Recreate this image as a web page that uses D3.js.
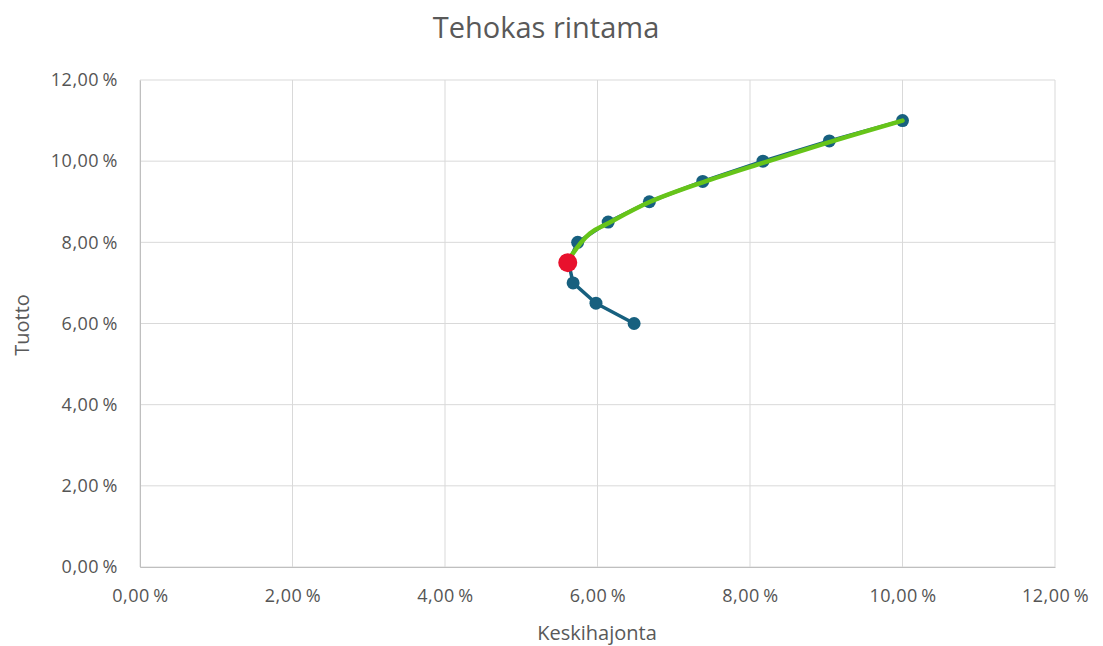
<!DOCTYPE html>
<html><head><meta charset="utf-8">
<script src="https://cdn.jsdelivr.net/npm/d3@7"></script>
<style>body{margin:0;background:#fff;}svg{display:block;}</style>
</head><body>
<svg id="c" width="1103" height="646"></svg>
<script>
const frontierStd = [6.48, 5.98, 5.68, 5.62, 5.74, 6.14, 6.68, 7.38, 8.17, 9.04, 10.0];
const frontierRet = [6.0, 6.5, 7.0, 7.5, 8.0, 8.5, 9.0, 9.5, 10.0, 10.5, 11.0];
const efficientStd = [5.61, 5.66, 5.9, 6.12, 6.69, 7.38, 8.17, 9.04, 10.0];
const efficientRet = [7.5, 7.68, 8.22, 8.45, 9.0, 9.48, 9.96, 10.47, 11.0];
const minVarStd = [5.61];
const minVarRet = [7.5];
const xTicks = [0, 2, 4, 6, 8, 10, 12];
const yTicks = [0, 2, 4, 6, 8, 10, 12];

const svg = d3.select("#c");
const fmt = v => d3.format(".2f")(v).replace(".", ",") + "\u2009%";
const x = d3.scaleLinear().domain([0, 12]).range([140, 1055]);
const y = d3.scaleLinear().domain([0, 12]).range([567, 80]);
const font = "'Open Sans', Roboto, sans-serif";

// gridlines
svg.append("g").selectAll("line").data(yTicks).join("line")
  .attr("x1", x(0)).attr("x2", x(12)).attr("y1", d => y(d)).attr("y2", d => y(d))
  .attr("stroke", "#d9d9d9").attr("stroke-width", 1);
svg.append("g").selectAll("line").data(xTicks).join("line")
  .attr("y1", y(0)).attr("y2", y(12)).attr("x1", d => x(d)).attr("x2", d => x(d))
  .attr("stroke", "#d9d9d9").attr("stroke-width", 1);

// axes
const xAxis = svg.append("g").attr("transform", `translate(0,${y(0)})`)
  .call(d3.axisBottom(x).tickValues(xTicks).tickFormat(fmt).tickSize(0).tickPadding(22));
const yAxis = svg.append("g").attr("transform", `translate(${x(0)},0)`)
  .call(d3.axisLeft(y).tickValues(yTicks).tickFormat(fmt).tickSize(0).tickPadding(22));
[xAxis, yAxis].forEach(a => {
  a.select(".domain").attr("stroke", "#bfbfbf");
  a.selectAll("text").attr("fill", "#555555").style("font-family", font)
    .style("font-size", "18px").style("letter-spacing", "0.5px");
});

// title & axis titles
svg.append("text").attr("x", 546).attr("y", 38).attr("text-anchor", "middle")
  .attr("fill", "#595959").style("font-family", font).style("font-size", "29px").text("Tehokas rintama");
svg.append("text").attr("x", 597).attr("y", 640).attr("text-anchor", "middle")
  .attr("fill", "#595959").style("font-family", font).style("font-size", "20px").text("Keskihajonta");
svg.append("text").attr("transform", "translate(29,325) rotate(-90)").attr("text-anchor", "middle")
  .attr("fill", "#595959").style("font-family", font).style("font-size", "20px").text("Tuotto");

// frontier series
const fr = frontierStd.map((s, i) => [s, frontierRet[i]]);
const line = d3.line().x(d => x(d[0])).y(d => y(d[1]));
svg.append("path").datum(fr).attr("d", line).attr("fill", "none")
  .attr("stroke", "#17607f").attr("stroke-width", 3.5).attr("stroke-linejoin", "round");
svg.append("g").selectAll("circle").data(fr).join("circle")
  .attr("cx", d => x(d[0])).attr("cy", d => y(d[1])).attr("r", 6.5).attr("fill", "#17607f");

// efficient frontier
const ef = efficientStd.map((s, i) => [s, efficientRet[i]]);
svg.append("path").datum(ef).attr("d", d3.line().x(d => x(d[0])).y(d => y(d[1])).curve(d3.curveCatmullRom))
  .attr("fill", "none").attr("stroke", "#66c419").attr("stroke-width", 4.5).attr("stroke-linecap", "round");

// minimum variance point
const mv = minVarStd.map((s, i) => [s, minVarRet[i]]);
svg.append("g").selectAll("circle").data(mv).join("circle")
  .attr("cx", d => x(d[0])).attr("cy", d => y(d[1])).attr("r", 9.5).attr("fill", "#e8112d");
</script>
</body></html>
